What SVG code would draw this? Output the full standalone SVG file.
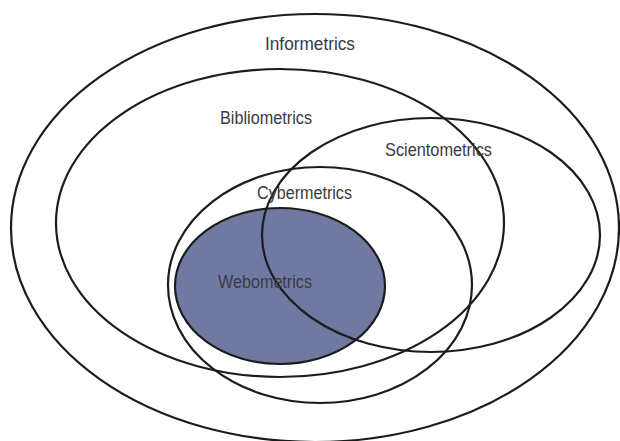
<svg xmlns="http://www.w3.org/2000/svg" width="620" height="441" viewBox="0 0 620 441">
  <style>
    .ring { fill: none; stroke: #1c1c1c; stroke-width: 2.2; }
    .lbl { font-family: "Liberation Sans", "DejaVu Sans", sans-serif; font-size: 18px; fill: #3a3a44; }
  </style>
  <rect width="620" height="441" fill="#ffffff"/>
  <g id="webometrics-fill">
    <ellipse cx="280" cy="286" rx="105" ry="78" fill="#7079a2"/>
  </g>
  <g id="connectors"/>
  <g id="informetrics">
    <ellipse class="ring" cx="315" cy="228" rx="304" ry="214"/>
    <text class="lbl" x="265" y="50" textLength="90" lengthAdjust="spacingAndGlyphs">Informetrics</text>
  </g>
  <g id="bibliometrics">
    <ellipse class="ring" cx="280" cy="223" rx="224" ry="154"/>
    <text class="lbl" x="220" y="124" textLength="92" lengthAdjust="spacingAndGlyphs">Bibliometrics</text>
  </g>
  <g id="scientometrics">
    <ellipse class="ring" cx="431" cy="235" rx="169" ry="117"/>
    <text class="lbl" x="385" y="156" textLength="107" lengthAdjust="spacingAndGlyphs">Scientometrics</text>
  </g>
  <g id="cybermetrics">
    <ellipse class="ring" cx="320" cy="285" rx="152" ry="118"/>
    <text class="lbl" x="257" y="199" textLength="95" lengthAdjust="spacingAndGlyphs">Cybermetrics</text>
  </g>
  <g id="webometrics">
    <ellipse class="ring" cx="280" cy="286" rx="105" ry="78"/>
    <text class="lbl" x="218" y="288" textLength="94" lengthAdjust="spacingAndGlyphs" fill="#2a2a33">Webometrics</text>
  </g>
</svg>
